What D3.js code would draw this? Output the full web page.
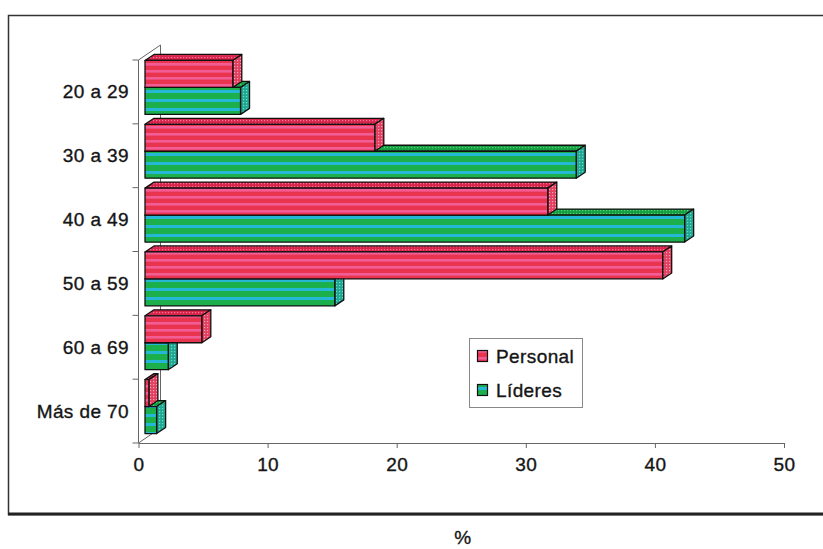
<!DOCTYPE html>
<html>
<head>
<meta charset="utf-8">
<script src="https://cdn.jsdelivr.net/npm/d3@7"></script>
<style>
  html, body { margin: 0; padding: 0; background: #ffffff; }
  svg { display: block; }
  text { font-family: "Liberation Sans", Arial, sans-serif; fill: #151515; letter-spacing: 0.4px;
         stroke: #151515; stroke-width: 0.35px; }
</style>
</head>
<body>
<svg id="chart" width="823" height="549"></svg>
<script>
// ---- data ----
const categories = ["20 a 29", "30 a 39", "40 a 49", "50 a 59", "60 a 69", "Más de 70"];
const personal = [6.8, 17.8, 31.2, 40.1, 4.4, 0.3];
const lideres = [7.4, 33.4, 41.8, 14.7, 1.8, 0.9];
const seriesNames = ["Personal", "Líderes"];
const xTicks = [0, 10, 20, 30, 40, 50];
const xTitle = "%";

// ---- layout ----
const svg = d3.select("#chart");
const plot = { left: 138.5, right: 784, top: 60, bottom: 443 };
const wallDepth = { dx: 22, dy: -15 };
const barOff = { dx: 6.5, dy: -4.5 };
const barDepth = { dx: 9, dy: -6 };

const x = d3.scaleLinear().domain([0, 50]).range([plot.left, plot.right]);
const yAxisBand = d3.scaleBand().domain(categories).range([plot.top, plot.bottom]);
const yBar = d3.scaleBand().domain(categories).range([plot.top, plot.bottom])
  .paddingInner(0.155).paddingOuter(0.0775);
const ySeries = d3.scaleBand().domain(seriesNames).range([0, yBar.bandwidth()]);

// ---- patterns ----
const defs = svg.append("defs");
function stripes(id, base, stripe, period, sh) {
  const p = defs.append("pattern").attr("id", id).attr("patternUnits", "userSpaceOnUse")
    .attr("width", 8).attr("height", period);
  p.append("rect").attr("width", 8).attr("height", period).attr("fill", base);
  p.append("rect").attr("y", 0).attr("width", 8).attr("height", sh).attr("fill", stripe);
}
function dots(id, base, dot) {
  const p = defs.append("pattern").attr("id", id).attr("patternUnits", "userSpaceOnUse")
    .attr("width", 3).attr("height", 3);
  p.append("rect").attr("width", 3).attr("height", 3).attr("fill", base);
  p.append("rect").attr("x", 0).attr("y", 0).attr("width", 1.2).attr("height", 1.2).attr("fill", dot);
}
stripes("redFront", "#e8344f", "#f25d95", 7, 2.6);
stripes("greenFront", "#1cb04c", "#25b8d6", 9, 3);
dots("redTop", "#d9234a", "#f27a98");
dots("redSide", "#e2405e", "#f7a0b8");
dots("greenTop", "#14a040", "#5ccf7e");
dots("greenSide", "#1ea88e", "#6fd8e0");

const fills = {
  "Personal": { front: "url(#redFront)", top: "url(#redTop)", side: "url(#redSide)" },
  "Líderes": { front: "url(#greenFront)", top: "url(#greenTop)", side: "url(#greenSide)" }
};

// ---- frame ----
svg.append("rect").attr("x", 8.5).attr("y", 15.5).attr("width", 830).attr("height", 499)
  .attr("fill", "none").attr("stroke", "#333").attr("stroke-width", 1.5);
svg.append("line").attr("x1", 8).attr("x2", 823).attr("y1", 514).attr("y2", 514)
  .attr("stroke", "#222").attr("stroke-width", 3);

// ---- walls ----
const wall = svg.append("g").attr("stroke", "#666").attr("stroke-width", 1).attr("fill", "none");
const x0 = x(0);
wall.append("line").attr("x1", x0).attr("y1", plot.top).attr("x2", x0).attr("y2", plot.bottom);
wall.append("line").attr("x1", x0 + wallDepth.dx).attr("y1", plot.top + wallDepth.dy)
  .attr("x2", x0 + wallDepth.dx).attr("y2", plot.bottom + wallDepth.dy);
wall.append("line").attr("x1", x0).attr("y1", plot.top)
  .attr("x2", x0 + wallDepth.dx).attr("y2", plot.top + wallDepth.dy);
wall.append("line").attr("x1", x0).attr("y1", plot.bottom)
  .attr("x2", x0 + wallDepth.dx).attr("y2", plot.bottom + wallDepth.dy);

// y ticks at band boundaries
const yEdges = categories.map(c => yAxisBand(c)).concat([plot.bottom]);
wall.selectAll(".ytick").data(yEdges).enter().append("line")
  .attr("x1", x0 - 6).attr("x2", x0).attr("y1", d => d).attr("y2", d => d);

// x axis
const xAxisG = svg.append("g").attr("transform", `translate(0,${plot.bottom})`)
  .call(d3.axisBottom(x).tickValues(xTicks).tickSize(5).tickSizeOuter(0).tickPadding(10));
xAxisG.select(".domain").attr("stroke", "#666");
xAxisG.selectAll(".tick line").attr("stroke", "#666");
xAxisG.selectAll(".tick text").attr("font-size", 19).attr("fill", "#151515")
  .attr("font-family", "'Liberation Sans', Arial, sans-serif");

// category labels
svg.selectAll(".cat").data(categories).enter().append("text")
  .attr("x", 129).attr("y", d => yAxisBand(d) + yAxisBand.bandwidth() / 2)
  .attr("text-anchor", "end").attr("dominant-baseline", "central")
  .attr("font-size", 19).text(d => d);

// ---- bars ----
const bars = [];
categories.forEach((c, i) => {
  bars.push({ cat: c, s: "Personal", v: personal[i] });
  bars.push({ cat: c, s: "Líderes", v: lideres[i] });
});
// draw from bottom to top so upper bars occlude lower top faces
const drawOrder = bars.slice().reverse();
const barG = svg.append("g").attr("stroke", "#111").attr("stroke-width", 1.3)
  .attr("stroke-linejoin", "round");
drawOrder.forEach(b => {
  const xl = x(0) + barOff.dx;
  const xr = x(b.v) + barOff.dx;
  const yt = yBar(b.cat) + ySeries(b.s) + barOff.dy;
  const yb = yt + ySeries.bandwidth();
  const g = barG.append("g");
  const dx = barDepth.dx, dy = barDepth.dy;
  g.append("path").attr("fill", fills[b.s].top)
    .attr("d", `M${xl},${yt}L${xl + dx},${yt + dy}L${xr + dx},${yt + dy}L${xr},${yt}Z`);
  g.append("path").attr("fill", fills[b.s].side)
    .attr("d", `M${xr},${yt}L${xr + dx},${yt + dy}L${xr + dx},${yb + dy}L${xr},${yb}Z`);
  g.append("rect").attr("x", xl).attr("y", yt).attr("width", Math.max(0, xr - xl))
    .attr("height", yb - yt).attr("fill", fills[b.s].front);
});

// ---- legend ----
const leg = svg.append("g");
leg.append("rect").attr("x", 469.5).attr("y", 338.5).attr("width", 113).attr("height", 69)
  .attr("fill", "#fff").attr("stroke", "#888").attr("stroke-width", 1);
seriesNames.forEach((s, i) => {
  const cy = 356 + i * 34;
  leg.append("rect").attr("x", 477.5).attr("y", cy - 5.5).attr("width", 10).attr("height", 11)
    .attr("fill", fills[s].front).attr("stroke", "#111").attr("stroke-width", 1.2);
  leg.append("text").attr("x", 496).attr("y", cy).attr("dominant-baseline", "central")
    .attr("font-size", 19).text(s);
});

// x title
svg.append("text").attr("x", 463).attr("y", 537).attr("text-anchor", "middle")
  .attr("dominant-baseline", "central").attr("font-size", 19).text(xTitle);
</script>
</body>
</html>
